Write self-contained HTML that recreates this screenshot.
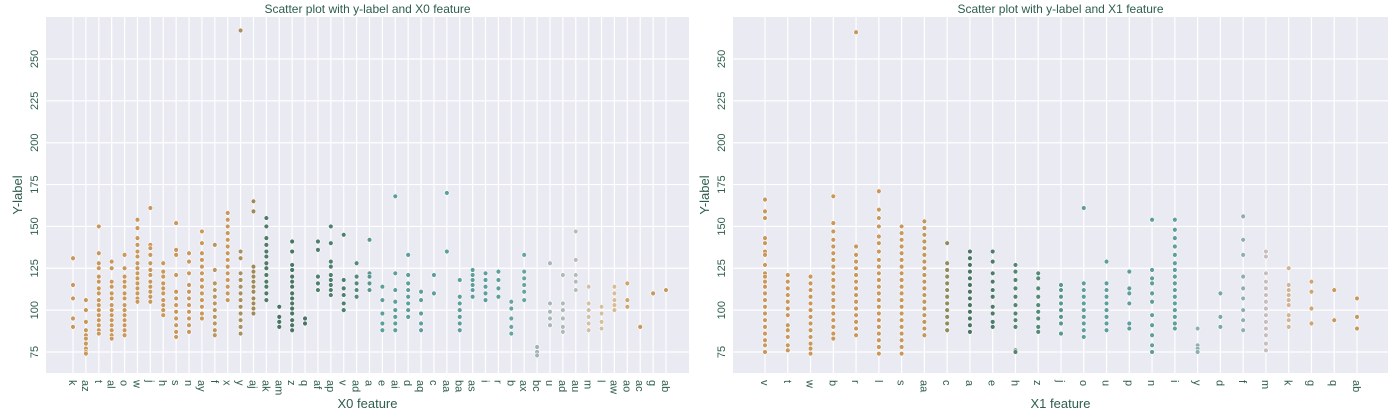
<!DOCTYPE html>
<html><head><meta charset="utf-8">
<style>
html,body{margin:0;padding:0;background:#fff;}
svg text{font-family:"Liberation Sans",sans-serif;}
</style></head>
<body>
<svg id="chart" width="1400" height="415" xmlns="http://www.w3.org/2000/svg"></svg>
<script>
const leftCategories=["k","az","t","al","o","w","j","h","s","n","ay","f","x","y","aj","ak","am","z","q","af","ap","v","ad","a","e","ai","d","aq","c","aa","ba","as","i","r","b","ax","bc","u","ad","au","m","l","aw","ao","ac","g","ab"];
const leftValues=[
[131,115,107,95,90],[106,100,93,88,85,83,80,77,75,74],
[150,134,128,125,120,117,113,110,106,103,100,97,94,91,88,86],
[129,125,117,114,110,107,103,100,97,94,91,88,85,83],
[133,125,120,117,114,110,107,103,100,97,94,91,88,85],
[154,149,143,139,135,132,128,125,122,119,116,113,110,107,105],
[161,139,137,133,128,124,121,117,114,111,108,105],
[128,123,120,116,113,110,106,103,100,97],
[152,136,133,121,111,107,103,99,95,91,87,84],
[134,129,122,115,111,107,103,99,95,91,87],
[147,140,134,130,126,122,118,114,110,106,102,98,95],
[139,124,116,112,108,104,100,96,92,88,85],
[158,154,150,146,142,138,134,130,126,122,118,114,110,106],
[267,135,131,122,118,114,110,106,102,98,94,90,86],
[165,159,126,123,120,117,114,111,107,104,101,98],
[155,150,143,139,135,132,128,125,121,117,114,110,106],
[102,96,93,90],
[141,135,127,124,120,117,114,110,107,104,101,98,94,91,88],
[95,92],[141,136,120,116,112],[150,140,129,126,121,118,115,112,109],
[145,118,113,109,104,100],[128,120,116,112,108],[142,122,120,116,112],
[114,106,98,92,88],[168,122,112,105,100,96,92,88],[133,121,116,112,108,104,100,96],
[111,106,98,92,88],[121,110],[170,135],[118,108,104,100,96,92,88],
[124,121,118,115,112,108],[122,118,114,110,106],[123,118,113,108],
[105,101,95,90,86],[133,123,119,115,111,106],[78,75,73],[128,104,99,95,91],
[121,104,100,95,90,87],[147,130,121,117,112],[114,104,100,96,92,88],
[102,98,93,89],[114,110,106,103,100],[116,106,102],[90],[110],[112]];
const leftColors=["#c8985c","#c8985c","#c8985c","#c8985c","#c8985c","#c8985c","#c8985c","#c8985c","#c8985c","#c8985c","#c8985c","#b89860","#c8985c","#a89060","#a08a5c","#4f7c68","#4a7565","#4a7565","#4a7565","#4f7f6e","#4f7f6e","#4f7f6e","#558a7a","#5a9692","#5e9e9c","#5e9e9c","#5e9e9c","#5e9e9c","#5e9e9c","#5e9e9c","#5e9e9c","#5e9e9c","#5e9e9c","#5e9e9c","#6aa4a2","#6aa4a2","#9fb5b5","#a8b8b8","#b0bab8","#b8bcb8","#d2c0a8","#d6bf9e","#d8bc96","#cfa570","#c8985c","#c8985c","#c8985c"];
const rightCategories=["v","t","w","b","r","l","s","aa","c","a","e","h","z","j","o","u","p","n","i","y","d","f","m","k","g","q","ab"];
const rightValues=[
[166,159,155,143,140,135,133,127,122,120,117,114,110,106,102,98,94,90,86,82,79,75],
[121,117,113,109,105,101,97,91,88,84,79,76],
[120,116,112,108,104,100,96,92,88,84,80,77,74],
[168,152,147,142,138,134,130,126,122,118,114,110,106,102,98,94,90,86,83],
[266,138,133,129,125,121,117,113,109,105,101,97,93,89,85],
[171,160,155,150,144,140,135,130,126,122,118,114,110,106,102,98,94,90,86,82,78,74],
[150,146,142,138,134,130,126,122,118,114,110,106,102,98,94,90,86,82,78,74],
[153,149,145,141,137,133,129,125,121,117,113,109,105,101,97,93,89,85],
[140,128,124,120,116,112,108,104,100,96,92,88],
[135,131,127,123,119,115,111,107,103,99,95,91,87],
[135,129,122,117,112,108,102,98,93,90],
[127,123,118,113,108,103,98,94,90,76,75],
[122,119,113,108,103,99,95,90,87],
[115,112,108,104,100,96,92,86],
[161,116,112,108,104,100,96,92,88,84],
[129,116,112,108,104,100,96,92,88],
[123,113,110,104,92,89],
[154,124,119,116,110,105,97,91,85,79,75],
[154,148,143,138,133,128,124,120,116,112,108,104,100,96,92,89],
[89,79,77,75],[110,96,90],[156,142,133,120,113,107,100,94,88],
[135,132,122,117,113,109,105,101,97,93,89,85,80,76],
[125,115,112,109,106,103,97,94,90],[117,111,101,92],[112,94],[107,96,89]];
const rightColors=["#c8985c","#c8985c","#c8985c","#c8985c","#c8985c","#c8985c","#c8985c","#c0985c","#8f8c5e","#4a7565","#4f7c6a","#558470","#558a7a","#5a9692","#5e9e9c","#5e9e9c","#5e9e9c","#5e9e9c","#5e9e9c","#8fb0b0","#7aa8a6","#8fb0ae","#c8bcbc","#d0b498","#cfa570","#c8985c","#c8985c"];
const yTicks=[75,100,125,150,175,200,225,250];

const svg=document.getElementById('chart');
const NS="http://www.w3.org/2000/svg";
function mk(tag,attrs,parent){const e=document.createElementNS(NS,tag);for(const k in attrs)e.setAttribute(k,attrs[k]);(parent||svg).appendChild(e);return e;}

function panel(opt){
  const g=mk('g',{});
  
  
  const L=opt.left,R=opt.right,T=17,B=373;
  const yScale=v=>352-(v-75)*(293/175);
  const n=opt.cats.length;
  const xScale=i=>opt.x0+i*(opt.x1-opt.x0)/(n-1);
  const bg=mk('rect',{x:L,y:T,width:R-L,height:B-T,fill:'#eaeaf2'},g);
  
  
  yTicks.forEach(t=>{
    const y=yScale(t);
    const ln=mk('line',{x1:L,x2:R,y1:y,y2:y,stroke:'#fff','stroke-width':1.2},g);
    
    
    const tx=mk('text',{x:0,y:0,transform:`translate(${L-8},${y}) rotate(-90)`,'text-anchor':'middle','font-size':11,fill:'#2e5e4e'},g);
    tx.textContent=t;
    
    
  });
  opt.cats.forEach((c,i)=>{
    const x=xScale(i);
    const ln=mk('line',{x1:x,x2:x,y1:T,y2:B,stroke:'#fff','stroke-width':1.2},g);
    
    
    const tx=mk('text',{x:0,y:0,transform:`translate(${x-4},${B+7}) rotate(90)`,'text-anchor':'start','font-size':11,fill:'#2e5e4e'},g);
    tx.textContent=c;
    
    
  });
  opt.cats.forEach((c,i)=>{
    opt.vals[i].forEach(v=>{
      const p=mk('circle',{cx:xScale(i),cy:yScale(v),r:2.4,fill:opt.colors[i],stroke:'#fff','stroke-width':0.6},g);
      
      
    });
  });
  const ti=mk('text',{x:(L+R)/2,y:13,'text-anchor':'middle','font-size':12,fill:'#2e5e4e'},g);
  ti.textContent=opt.title;
  
  
  const xl=mk('text',{x:(L+R)/2,y:408,'text-anchor':'middle','font-size':13,fill:'#2e5e4e'},g);
  xl.textContent=opt.xlabel;
  
  
  const yl=mk('text',{x:0,y:0,transform:`translate(${L-24},${195}) rotate(-90)`,'text-anchor':'middle','font-size':13,fill:'#2e5e4e'},g);
  yl.textContent='Y-label';
  
  
}
panel({name:'x0-scatter-panel',left:46,right:689,x0:73,x1:666,cats:leftCategories,vals:leftValues,colors:leftColors,title:'Scatter plot with y-label and X0 feature',xlabel:'X0 feature'});
panel({name:'x1-scatter-panel',left:733,right:1388,x0:765,x1:1357,cats:rightCategories,vals:rightValues,colors:rightColors,title:'Scatter plot with y-label and X1 feature',xlabel:'X1 feature'});
</script>
</body></html>
